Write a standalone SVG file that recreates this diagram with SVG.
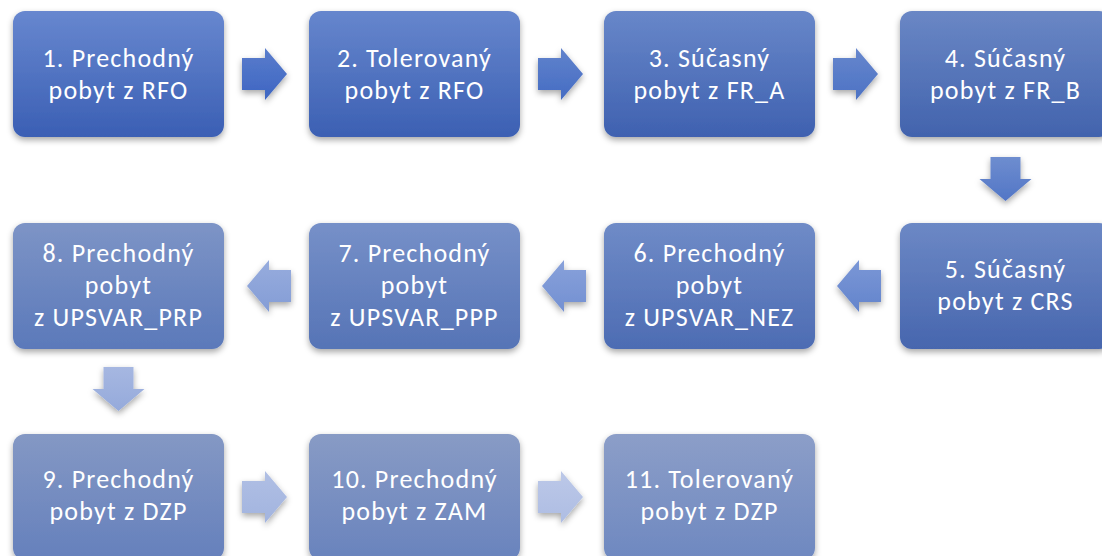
<svg xmlns="http://www.w3.org/2000/svg" width="1102" height="556" viewBox="0 0 1102 556">
<defs>
<filter id="sh" x="-20%" y="-20%" width="140%" height="150%">
<feDropShadow dx="0" dy="3" stdDeviation="3" flood-color="#000" flood-opacity="0.35"/>
</filter>
<linearGradient id="b1" x1="0" y1="0" x2="0" y2="1"><stop offset="0" stop-color="#6787cf"/><stop offset="1" stop-color="#3b5fb4"/></linearGradient>
<linearGradient id="b2" x1="0" y1="0" x2="0" y2="1"><stop offset="0" stop-color="#6686cd"/><stop offset="1" stop-color="#3c60b3"/></linearGradient>
<linearGradient id="b3" x1="0" y1="0" x2="0" y2="1"><stop offset="0" stop-color="#6887c9"/><stop offset="1" stop-color="#3f61b0"/></linearGradient>
<linearGradient id="b4" x1="0" y1="0" x2="0" y2="1"><stop offset="0" stop-color="#6a87c5"/><stop offset="1" stop-color="#4263ad"/></linearGradient>
<linearGradient id="b5" x1="0" y1="0" x2="0" y2="1"><stop offset="0" stop-color="#6c88c5"/><stop offset="1" stop-color="#4766ae"/></linearGradient>
<linearGradient id="b6" x1="0" y1="0" x2="0" y2="1"><stop offset="0" stop-color="#6f8bc7"/><stop offset="1" stop-color="#4d6cb3"/></linearGradient>
<linearGradient id="b7" x1="0" y1="0" x2="0" y2="1"><stop offset="0" stop-color="#7690c8"/><stop offset="1" stop-color="#5674b6"/></linearGradient>
<linearGradient id="b8" x1="0" y1="0" x2="0" y2="1"><stop offset="0" stop-color="#7d94c6"/><stop offset="1" stop-color="#5b79ba"/></linearGradient>
<linearGradient id="b9" x1="0" y1="0" x2="0" y2="1"><stop offset="0" stop-color="#8498c4"/><stop offset="1" stop-color="#6580bc"/></linearGradient>
<linearGradient id="b10" x1="0" y1="0" x2="0" y2="1"><stop offset="0" stop-color="#889bc5"/><stop offset="1" stop-color="#6983bd"/></linearGradient>
<linearGradient id="b11" x1="0" y1="0" x2="0" y2="1"><stop offset="0" stop-color="#8c9ec8"/><stop offset="1" stop-color="#6e88c0"/></linearGradient>
<linearGradient id="a1" x1="0" y1="0" x2="0" y2="1"><stop offset="0" stop-color="#5a7dcc"/><stop offset="1" stop-color="#3d65c2"/></linearGradient>
<linearGradient id="a2" x1="0" y1="0" x2="0" y2="1"><stop offset="0" stop-color="#6183cc"/><stop offset="1" stop-color="#456cc3"/></linearGradient>
<linearGradient id="a3" x1="0" y1="0" x2="0" y2="1"><stop offset="0" stop-color="#6787cd"/><stop offset="1" stop-color="#4c72c4"/></linearGradient>
<linearGradient id="a4" x1="0" y1="0" x2="0" y2="1"><stop offset="0" stop-color="#6e8dcf"/><stop offset="1" stop-color="#5276c6"/></linearGradient>
<linearGradient id="a5" x1="0" y1="0" x2="0" y2="1"><stop offset="0" stop-color="#7b97d6"/><stop offset="1" stop-color="#6384cc"/></linearGradient>
<linearGradient id="a6" x1="0" y1="0" x2="0" y2="1"><stop offset="0" stop-color="#88a1da"/><stop offset="1" stop-color="#7390d2"/></linearGradient>
<linearGradient id="a7" x1="0" y1="0" x2="0" y2="1"><stop offset="0" stop-color="#97acdd"/><stop offset="1" stop-color="#849dd6"/></linearGradient>
<linearGradient id="a8" x1="0" y1="0" x2="0" y2="1"><stop offset="0" stop-color="#a6b7e1"/><stop offset="1" stop-color="#95aadb"/></linearGradient>
<linearGradient id="a9" x1="0" y1="0" x2="0" y2="1"><stop offset="0" stop-color="#b0bfe4"/><stop offset="1" stop-color="#a2b4df"/></linearGradient>
<linearGradient id="a10" x1="0" y1="0" x2="0" y2="1"><stop offset="0" stop-color="#bcc8e8"/><stop offset="1" stop-color="#aebde3"/></linearGradient>
</defs>
<style>
.box{filter:url(#sh)}
.t{font-family:Carlito,Lato,"Liberation Sans",sans-serif;font-size:26px;letter-spacing:1.2px;fill:#ffffff;text-anchor:middle}
.ar{filter:url(#sh)}
</style>
<rect width="1102" height="556" fill="#ffffff"/>
<g id="connectors">
<path class="ar" fill="url(#a1)" d="M242,58 H265 V48 L287,74 L265,100 V90 H242 Z"/>
<path class="ar" fill="url(#a2)" d="M538,58 H561 V48 L583,74 L561,100 V90 H538 Z"/>
<path class="ar" fill="url(#a3)" d="M833,58 H856 V48 L878,74 L856,100 V90 H833 Z"/>
<path class="ar" fill="url(#a4)" d="M990.5,157 H1020.5 V179 H1031.5 L1005.5,201 L979.5,179 H990.5 Z"/>
<path class="ar" fill="url(#a5)" d="M881,270 H859 V260 L837,286 L859,312 V302 H881 Z"/>
<path class="ar" fill="url(#a6)" d="M586,270 H564 V260 L542,286 L564,312 V302 H586 Z"/>
<path class="ar" fill="url(#a7)" d="M291,270 H269 V260 L247,286 L269,312 V302 H291 Z"/>
<path class="ar" fill="url(#a8)" d="M103.5,367 H133.5 V389 H144.5 L118.5,411 L92.5,389 H103.5 Z"/>
<path class="ar" fill="url(#a9)" d="M242,481 H265 V471 L287,497 L265,523 V513 H242 Z"/>
<path class="ar" fill="url(#a10)" d="M538,481 H561 V471 L583,497 L561,523 V513 H538 Z"/>
</g>
<g id="n1"><rect class="box" x="13" y="11" width="211" height="126" rx="12" fill="url(#b1)"/><text class="t" x="118.5" y="67">1. Prechodný</text><text class="t" x="118.5" y="99">pobyt z RFO</text></g>
<g id="n2"><rect class="box" x="309" y="11" width="211" height="126" rx="12" fill="url(#b2)"/><text class="t" x="414.5" y="67">2. Tolerovaný</text><text class="t" x="414.5" y="99">pobyt z RFO</text></g>
<g id="n3"><rect class="box" x="604" y="11" width="211" height="126" rx="12" fill="url(#b3)"/><text class="t" x="709.5" y="67">3. Súčasný</text><text class="t" x="709.5" y="99">pobyt z FR_A</text></g>
<g id="n4"><rect class="box" x="900" y="11" width="211" height="126" rx="12" fill="url(#b4)"/><text class="t" x="1005.5" y="67">4. Súčasný</text><text class="t" x="1005.5" y="99">pobyt z FR_B</text></g>
<g id="n5"><rect class="box" x="900" y="223" width="211" height="126" rx="12" fill="url(#b5)"/><text class="t" x="1005.5" y="278">5. Súčasný</text><text class="t" x="1005.5" y="310">pobyt z CRS</text></g>
<g id="n6"><rect class="box" x="604" y="223" width="211" height="126" rx="12" fill="url(#b6)"/><text class="t" x="709.5" y="262">6. Prechodný</text><text class="t" x="709.5" y="294">pobyt</text><text class="t" x="709.5" y="326">z UPSVAR_NEZ</text></g>
<g id="n7"><rect class="box" x="309" y="223" width="211" height="126" rx="12" fill="url(#b7)"/><text class="t" x="414.5" y="262">7. Prechodný</text><text class="t" x="414.5" y="294">pobyt</text><text class="t" x="414.5" y="326">z UPSVAR_PPP</text></g>
<g id="n8"><rect class="box" x="13" y="223" width="211" height="126" rx="12" fill="url(#b8)"/><text class="t" x="118.5" y="262">8. Prechodný</text><text class="t" x="118.5" y="294">pobyt</text><text class="t" x="118.5" y="326">z UPSVAR_PRP</text></g>
<g id="n9"><rect class="box" x="13" y="434" width="211" height="126" rx="12" fill="url(#b9)"/><text class="t" x="118.5" y="488">9. Prechodný</text><text class="t" x="118.5" y="520">pobyt z DZP</text></g>
<g id="n10"><rect class="box" x="309" y="434" width="211" height="126" rx="12" fill="url(#b10)"/><text class="t" x="414.5" y="488">10. Prechodný</text><text class="t" x="414.5" y="520">pobyt z ZAM</text></g>
<g id="n11"><rect class="box" x="604" y="434" width="211" height="126" rx="12" fill="url(#b11)"/><text class="t" x="709.5" y="488">11. Tolerovaný</text><text class="t" x="709.5" y="520">pobyt z DZP</text></g>
</svg>
